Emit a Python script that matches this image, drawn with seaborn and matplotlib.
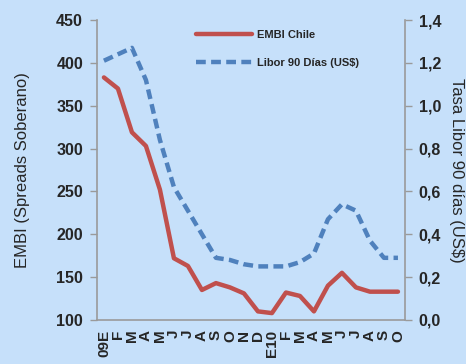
import seaborn as sns
import matplotlib.pyplot as plt
from matplotlib.ticker import FixedLocator, FuncFormatter
import pandas as pd
import numpy as np

# Monthly data, Jan 2009 - Oct 2010
months = ['09E', 'F', 'M', 'A', 'M', 'J', 'J', 'A', 'S', 'O', 'N', 'D',
          'E10', 'F', 'M', 'A', 'M', 'J', 'J', 'A', 'S', 'O']
embi = [383, 370, 319, 303, 252, 172, 163, 135, 143, 138, 131, 110,
        108, 132, 128, 110, 140, 155, 138, 133, 133, 133]
libor = [1.21, 1.24, 1.27, 1.12, 0.84, 0.62, 0.51, 0.40, 0.29, 0.28, 0.26, 0.25,
         0.25, 0.25, 0.27, 0.31, 0.47, 0.54, 0.51, 0.37, 0.29, 0.29]

data = pd.DataFrame({'idx': np.arange(len(months)), 'EMBI': embi, 'Libor': libor})

sns.set_style('white')
plt.rcParams['font.family'] = ['Liberation Sans', 'DejaVu Sans']

bg = '#C6E0FA'
red = '#C0504D'
blue = '#4F81BD'
grey = '#9A9A9A'

fig = plt.figure(figsize=(4.66, 3.64), dpi=100, facecolor=bg)
ax = fig.add_axes([0.208, 0.121, 0.661, 0.824], facecolor=bg)
ax2 = ax.twinx()

sns.lineplot(x='idx', y='EMBI', data=data, ax=ax, color=red, linewidth=3.2,
             label='EMBI Chile', legend=False)
sns.lineplot(x='idx', y='Libor', data=data, ax=ax2, color=blue, linewidth=3.2,
             linestyle=(0, (2.2, 1.2)), label='Libor 90 Días (US$)', legend=False)

ax.set_xlim(-0.5, len(months) - 0.5)
ax.set_ylim(100, 450)
ax2.set_ylim(0, 1.4)
ax.set_yticks(np.arange(100, 451, 50))
ax2.set_yticks(np.arange(0, 1.41, 0.2))
ax2.yaxis.set_major_formatter(FuncFormatter(lambda v, p: f'{v:.1f}'.replace('.', ',')))

# category boundaries as ticks, labels centered on categories
ax.xaxis.set_major_locator(FixedLocator(np.arange(-0.5, len(months), 1.0)))
ax.xaxis.set_minor_locator(FixedLocator(np.arange(len(months))))
ax.set_xticklabels([])
ax.set_xticklabels(months, minor=True, rotation=90, fontsize=11, fontweight='bold', va='top')
ax.tick_params(axis='x', which='minor', length=0, pad=7)
ax.tick_params(axis='x', which='major', length=5, direction='out', color=grey, width=1)

for a in (ax, ax2):
    for s in a.spines.values():
        s.set_visible(False)
ax.spines['left'].set_visible(True)
ax.spines['bottom'].set_visible(True)
ax2.spines['right'].set_visible(True)
for s in (ax.spines['left'], ax.spines['bottom'], ax2.spines['right']):
    s.set_color(grey)
    s.set_linewidth(1.2)

ax.tick_params(axis='y', length=5, color=grey, width=1, labelsize=11.5, pad=5)
ax2.tick_params(axis='y', length=5, color=grey, width=1, labelsize=11.5, pad=5)
for lbl in ax.get_yticklabels() + ax2.get_yticklabels():
    lbl.set_fontweight('bold')

ax.set_xlabel('')
ax.set_ylabel('EMBI (Spreads Soberano)', fontsize=12, labelpad=19)
ax2.set_ylabel('Tasa Libor 90 días (US$)', fontsize=12, rotation=270, labelpad=16)

h1, l1 = ax.get_legend_handles_labels()
h2, l2 = ax2.get_legend_handles_labels()
leg = ax2.legend(h1 + h2, l1 + l2, loc='upper left', bbox_to_anchor=(0.29, 1.0),
                 frameon=False, prop={'weight': 'bold', 'size': 8},
                 handlelength=5.0, handletextpad=0.5, labelspacing=1.6)

fig.savefig('out.png', dpi=100, facecolor=bg)
